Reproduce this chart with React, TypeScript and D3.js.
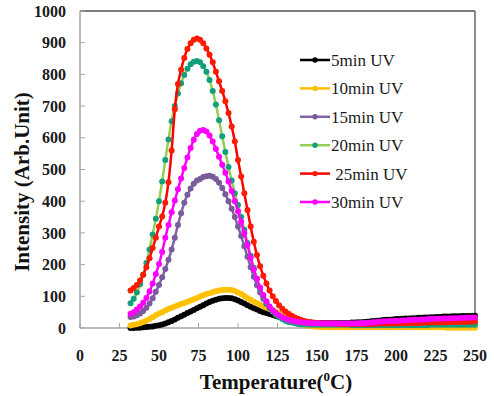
import * as d3 from "d3";

const W = 494;
const H = 396;
const margin = { top: 11, right: 19, bottom: 68, left: 80 };

// temperature grid the instrument sampled (every 2 °C)
const temps = d3.range(32, 252, 2);

const xTicks = [0, 25, 50, 75, 100, 125, 150, 175, 200, 225, 250];
const yTicks = [0, 100, 200, 300, 400, 500, 600, 700, 800, 900, 1000];

const uv5 = [
  0, 0, 1, 1, 2, 3, 4, 5, 7, 9,
  11, 14, 18, 22, 27, 32, 37, 42, 47, 52,
  57, 62, 67, 72, 77, 82, 86, 89, 92, 94,
  95, 95, 94, 91, 87, 82, 77, 72, 67, 62,
  58, 54, 50, 47, 44, 41, 38, 35, 32, 29,
  27, 25, 23, 21, 20, 19, 18, 17, 16, 16,
  16, 16, 16, 16, 16, 16, 16, 16, 16, 16,
  17, 17, 18, 18, 19, 20, 21, 22, 23, 24,
  25, 26, 26, 27, 28, 28, 29, 30, 30, 31,
  31, 32, 32, 33, 33, 34, 34, 35, 35, 36,
  36, 36, 37, 37, 37, 38, 38, 38, 38, 39,
];
const uv10 = [
  8, 10, 12, 15, 19, 23, 28, 34, 40, 46,
  50, 55, 60, 64, 68, 72, 76, 79, 83, 87,
  91, 95, 99, 103, 107, 110, 113, 116, 118, 120,
  121, 121, 120, 117, 112, 107, 101, 95, 89, 83,
  78, 73, 68, 64, 60, 56, 51, 46, 41, 36,
  31, 26, 21, 17, 13, 10, 8, 6, 5, 4,
  3, 3, 3, 2, 2, 2, 2, 2, 2, 2,
  2, 2, 2, 2, 2, 2, 2, 2, 2, 2,
  2, 2, 2, 2, 2, 2, 2, 2, 2, 2,
  2, 2, 2, 2, 2, 2, 2, 2, 2, 2,
  1, 1, 1, 1, 1, 1, 1, 1, 1, 1,
];
const uv15 = [
  35, 36, 40, 46, 54, 64, 77, 94, 114, 136,
  160, 186, 215, 248, 285, 325, 362, 395, 420, 440,
  455, 465, 470, 476, 479, 480, 477, 470, 458, 442,
  422, 400, 376, 350, 320, 290, 258, 225, 192, 162,
  135, 112, 92, 76, 63, 52, 44, 37, 32, 28,
  25, 22, 20, 18, 17, 16, 15, 15, 14, 14,
  14, 14, 14, 14, 14, 14, 14, 14, 14, 14,
  14, 14, 14, 15, 15, 16, 16, 17, 17, 18,
  19, 19, 20, 20, 21, 21, 22, 22, 23, 23,
  24, 24, 25, 25, 26, 26, 27, 27, 28, 28,
  28, 29, 29, 29, 30, 30, 30, 31, 31, 31,
];
const uv20 = [
  78, 92, 112, 138, 168, 205, 248, 295, 345, 400,
  462, 530, 595, 652, 700, 740, 772, 798, 818, 832,
  840, 842, 838, 826, 808, 782, 748, 705, 655, 605,
  555, 508, 465, 425, 388, 350, 310, 268, 228, 190,
  155, 125, 100, 80, 64, 52, 42, 34, 28, 23,
  19, 17, 15, 13, 12, 11, 11, 10, 10, 10,
  10, 10, 10, 10, 10, 10, 10, 10, 10, 10,
  9, 9, 9, 9, 9, 9, 9, 9, 9, 9,
  9, 9, 9, 9, 9, 9, 9, 9, 9, 9,
  9, 9, 9, 9, 9, 10, 10, 10, 10, 10,
  10, 10, 10, 10, 10, 10, 10, 10, 10, 10,
];
const uv25 = [
  118, 126, 136, 150, 168, 192, 220, 252, 285, 320,
  352, 395, 460, 560, 690, 770, 815, 852, 880, 898,
  909, 913, 909, 898, 882, 862, 838, 808, 778, 748,
  715, 678, 636, 588, 530, 478, 425, 372, 320, 272,
  230, 195, 165, 140, 118, 100, 85, 72, 61, 52,
  45, 39, 33, 29, 25, 22, 20, 18, 17, 16,
  15, 15, 14, 14, 14, 14, 13, 13, 13, 13,
  13, 13, 13, 13, 13, 13, 13, 13, 14, 14,
  14, 14, 14, 14, 15, 15, 15, 15, 15, 16,
  16, 16, 16, 17, 17, 17, 17, 18, 18, 18,
  18, 19, 19, 19, 19, 20, 20, 20, 20, 21,
];
const uv30 = [
  45, 50, 58, 68, 80, 95, 115, 140, 170, 202,
  240, 285, 325, 365, 402, 438, 472, 505, 538, 568,
  594, 612, 622, 625, 620, 607, 588, 565, 540, 515,
  490, 462, 432, 400, 368, 335, 300, 262, 222, 185,
  155, 128, 104, 84, 68, 56, 47, 40, 34, 29,
  26, 23, 21, 19, 18, 17, 16, 15, 15, 15,
  14, 14, 14, 14, 14, 14, 14, 14, 14, 14,
  14, 14, 15, 15, 16, 16, 17, 18, 19, 20,
  21, 21, 22, 22, 23, 23, 24, 24, 25, 25,
  26, 26, 27, 27, 28, 28, 29, 29, 29, 30,
  30, 30, 31, 31, 31, 32, 32, 32, 33, 33,
];

const seriesNames = ["5min UV", "10min UV", "15min UV", "20min UV", " 25min UV", "30min UV"];
const seriesValues = [uv5, uv10, uv15, uv20, uv25, uv30];
const lineColors = ["#000000", "#ffc000", "#8064a2", "#92d050", "#ff0000", "#ff00ff"];
const dotColors = ["#000000", "#ffc000", "#7a5c9c", "#12a07c", "#ff1a00", "#ff00ff"];

const serif = "Liberation Serif, DejaVu Serif, serif";

export default function App() {
  const innerW = W - margin.left - margin.right;
  const innerH = H - margin.top - margin.bottom;
  const x = d3.scaleLinear().domain([0, 250]).range([margin.left, margin.left + innerW]);
  const y = d3.scaleLinear().domain([0, 1000]).range([margin.top + innerH, margin.top]);

  const line = d3
    .line<number>()
    .x((_, i) => x(temps[i]))
    .y((d) => y(d))
    .curve(d3.curveMonotoneX);

  const x0 = x(0);
  const x1 = x(250);
  const y0 = y(0);
  const y1 = y(1000);
  const ts = { fontFamily: serif };

  return (
    <svg
      width={W}
      height={H}
      style={{ position: "absolute", left: 0, top: 0, background: "#fff" }}
    >
      {/* frame */}
      <line x1={x0} x2={x1} y1={y1} y2={y1} stroke="#555" strokeWidth={1.5} />
      <line x1={x1} x2={x1} y1={y1} y2={y0} stroke="#666" strokeWidth={1.5} />
      <line x1={x0} x2={x0} y1={y1} y2={y0} stroke="#a6a6a6" strokeWidth={1.5} />
      <line x1={x0} x2={x1} y1={y0} y2={y0} stroke="#a6a6a6" strokeWidth={1.5} />

      {/* y ticks */}
      {yTicks.map((t) => (
        <g key={"y" + t}>
          <line x1={x0} x2={x0 + 5} y1={y(t)} y2={y(t)} stroke="#a6a6a6" strokeWidth={1} />
          <text
            x={66}
            y={y(t)}
            dy="0.35em"
            textAnchor="end"
            fontSize={16}
            fontWeight="bold"
            fill="#1a1a1a"
            style={ts}
          >
            {t}
          </text>
        </g>
      ))}

      {/* x ticks */}
      {xTicks.map((t) => (
        <g key={"x" + t}>
          <line x1={x(t)} x2={x(t)} y1={y0} y2={y0 - 5} stroke="#a6a6a6" strokeWidth={1} />
          <text
            x={x(t)}
            y={361}
            textAnchor="middle"
            fontSize={16}
            fontWeight="bold"
            fill="#1a1a1a"
            style={ts}
          >
            {t}
          </text>
        </g>
      ))}

      {/* series */}
      {seriesValues.map((vals, s) => (
        <g key={seriesNames[s]}>
          <path d={line(vals) || ""} fill="none" stroke={lineColors[s]} strokeWidth={2.5} />
          {vals.map((v, i) => (
            <circle key={i} cx={x(temps[i])} cy={y(v)} r={3} fill={dotColors[s]} />
          ))}
        </g>
      ))}

      {/* legend */}
      {seriesNames.map((name, s) => {
        const ly = 60 + s * 28.4;
        return (
          <g key={"lg" + s}>
            <line x1={300} x2={330} y1={ly} y2={ly} stroke={lineColors[s]} strokeWidth={2.5} />
            <circle cx={315} cy={ly} r={2.7} fill={dotColors[s]} />
            <text
              x={331}
              y={ly}
              dy="0.35em"
              fontSize={17}
              fill="#1a1a1a"
              style={{ ...ts, whiteSpace: "pre" }}
            >
              {name}
            </text>
          </g>
        );
      })}

      {/* axis titles */}
      <text x={276} y={389} textAnchor="middle" fontSize={21} fontWeight="bold" fill="#111" style={ts}>
        Temperature(
        <tspan fontSize={13} dy={-8}>
          0
        </tspan>
        <tspan dy={8}>C)</tspan>
      </text>
      <text
        transform={`translate(29, 182) rotate(-90)`}
        textAnchor="middle"
        fontSize={21}
        fontWeight="bold"
        fill="#111"
        style={ts}
      >
        Intensity (Arb.Unit)
      </text>
    </svg>
  );
}
